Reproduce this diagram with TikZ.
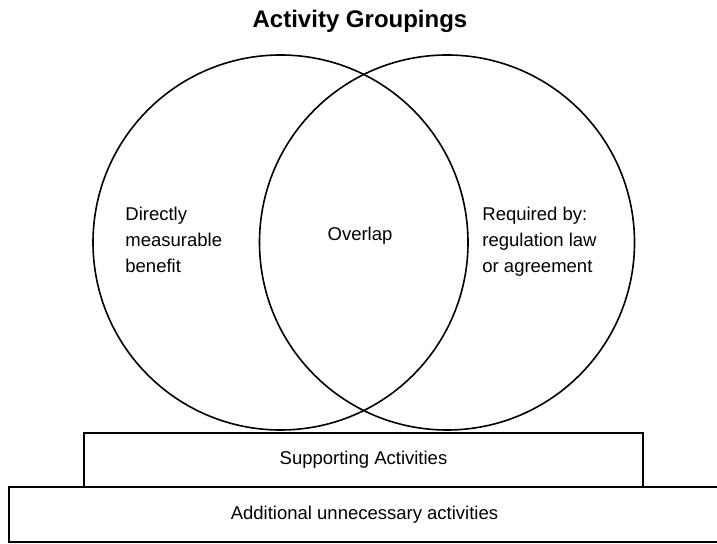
\documentclass[tikz,border=0pt]{standalone}
\usepackage{fontspec}
\setmainfont{Liberation Sans}

\tikzset{
  groupcircle/.style={circle,draw,line width=0.8pt,minimum size=187.5pt,inner sep=0pt},
  layerbox/.style={rectangle,draw,line width=0.8pt,inner sep=0pt,font=\fontsize{9.25}{13}\selectfont},
  grouptext/.style={anchor=west,align=left,inner sep=0pt,font=\fontsize{9.25}{13}\selectfont}
}

\begin{document}
\begin{tikzpicture}[x=0.5pt,y=-0.5pt]
\useasboundingbox (0,0) rectangle (717,544);

\node [anchor=base,font=\bfseries\fontsize{12}{14}\selectfont] (title) at (360,28) {Activity Groupings};

\node [groupcircle] (measurable) at (280.5,242.5) {};
\node [groupcircle] (required) at (447,242.5) {};

\node [grouptext] (measurabletext) at (125,240) {Directly\\measurable\\benefit};
\node [anchor=base,inner sep=0pt,font=\fontsize{9.25}{13}\selectfont] (overlap) at (360,241) {Overlap};
\node [grouptext] (requiredtext) at (482,242) {Required by:\\regulation law\\or agreement};

\node [layerbox,minimum width=279.5pt,minimum height=27pt] (supporting) at (363.5,460) {Supporting Activities};
\node [layerbox,minimum width=355.5pt,minimum height=27.5pt] (additional) at (364.5,514.5) {Additional unnecessary activities};
\end{tikzpicture}
\end{document}
